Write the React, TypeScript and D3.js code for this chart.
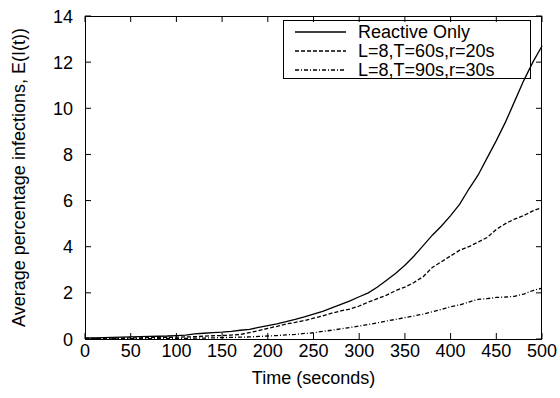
import React from "react";
import * as d3 from "d3";

const times = d3.range(0, 501, 10);
const reactiveOnly = [0.05, 0.05, 0.06, 0.07, 0.08, 0.09, 0.1, 0.11, 0.12, 0.13, 0.15, 0.17, 0.22, 0.25, 0.28, 0.3, 0.33, 0.38, 0.42, 0.5, 0.58, 0.66, 0.75, 0.85, 0.96, 1.08, 1.2, 1.35, 1.5, 1.65, 1.83, 2.0, 2.25, 2.55, 2.85, 3.2, 3.6, 4.05, 4.5, 4.9, 5.35, 5.85, 6.5, 7.1, 7.85, 8.6, 9.4, 10.3, 11.2, 12.0, 12.7];
const t60r20 = [0.02, 0.03, 0.03, 0.04, 0.04, 0.05, 0.05, 0.06, 0.07, 0.07, 0.08, 0.09, 0.1, 0.12, 0.14, 0.15, 0.17, 0.2, 0.28, 0.36, 0.46, 0.55, 0.65, 0.72, 0.8, 0.9, 1.0, 1.12, 1.22, 1.3, 1.43, 1.6, 1.75, 1.9, 2.1, 2.25, 2.45, 2.7, 3.1, 3.35, 3.6, 3.85, 4.0, 4.2, 4.4, 4.75, 5.0, 5.2, 5.35, 5.55, 5.7];
const t90r30 = [0.01, 0.01, 0.01, 0.01, 0.02, 0.02, 0.02, 0.02, 0.02, 0.03, 0.03, 0.03, 0.04, 0.04, 0.05, 0.06, 0.07, 0.08, 0.09, 0.11, 0.13, 0.15, 0.18, 0.2, 0.24, 0.27, 0.33, 0.38, 0.44, 0.5, 0.56, 0.63, 0.7, 0.78, 0.85, 0.93, 1.0, 1.08, 1.18, 1.28, 1.4, 1.48, 1.6, 1.72, 1.75, 1.8, 1.82, 1.85, 1.95, 2.1, 2.2];

const seriesNames = ["Reactive Only", "L=8,T=60s,r=20s", "L=8,T=90s,r=30s"];
const seriesValues = [reactiveOnly, t60r20, t90r30];
const dashes = ["none", "4,2", "4,2,1,2"];
const xTicks = d3.range(0, 501, 50);
const yTicks = d3.range(0, 15, 2);

export default function App() {
  const W = 560, H = 398;
  const m = { left: 85, right: 542, top: 16, bottom: 339 };
  const x = d3.scaleLinear().domain([0, 500]).range([m.left, m.right]);
  const y = d3.scaleLinear().domain([0, 14]).range([m.bottom, m.top]);
  const font = "'Liberation Sans', Arial, Helvetica, sans-serif";
  const fs = 18;
  const tick = 6;
  const line = (vals: number[]) =>
    d3.line<number>().x((_, i) => x(times[i])).y((v) => y(v))(vals) || "";

  return (
    <svg width={W} height={H} style={{ position: "absolute", left: 0, top: 0, background: "#fff" }} fontFamily={font}>
      <rect x={0} y={0} width={W} height={H} fill="#fff" />
      {xTicks.map((t) => (
        <g key={"x" + t}>
          <line x1={x(t)} x2={x(t)} y1={m.bottom} y2={m.bottom - tick} stroke="#000" />
          <line x1={x(t)} x2={x(t)} y1={m.top} y2={m.top + tick} stroke="#000" />
          <text x={x(t)} y={357} fontSize={fs} textAnchor="middle">{t}</text>
        </g>
      ))}
      {yTicks.map((v) => (
        <g key={"y" + v}>
          <line x1={m.left} x2={m.left + tick} y1={y(v)} y2={y(v)} stroke="#000" />
          <line x1={m.right} x2={m.right - tick} y1={y(v)} y2={y(v)} stroke="#000" />
          <text x={73} y={y(v) + 6.5} fontSize={fs} textAnchor="end">{v}</text>
        </g>
      ))}
      <text x={(m.left + m.right) / 2} y={384} fontSize={fs} textAnchor="middle">Time (seconds)</text>
      <text transform={`translate(25,${(m.top + m.bottom) / 2}) rotate(-90)`} fontSize={fs} textAnchor="middle">
        Average percentage infections, E(I(t))
      </text>
      {seriesValues.map((vals, i) => (
        <path key={"s" + i} d={line(vals)} fill="none" stroke="#000" strokeWidth={1.3} strokeDasharray={dashes[i]} />
      ))}
      <rect x={283.5} y={20.5} width={247} height={58} fill="none" stroke="#000" />
      {seriesNames.map((name, i) => (
        <g key={"l" + i}>
          <line x1={295} x2={346} y1={32 + i * 19} y2={32 + i * 19} stroke="#000" strokeWidth={1.3} strokeDasharray={dashes[i]} />
          <text x={358} y={38 + i * 19} fontSize={fs}>{name}</text>
        </g>
      ))}
      <rect x={m.left + 0.5} y={m.top + 0.5} width={m.right - m.left - 1} height={m.bottom - m.top} fill="none" stroke="#000" />
    </svg>
  );
}
